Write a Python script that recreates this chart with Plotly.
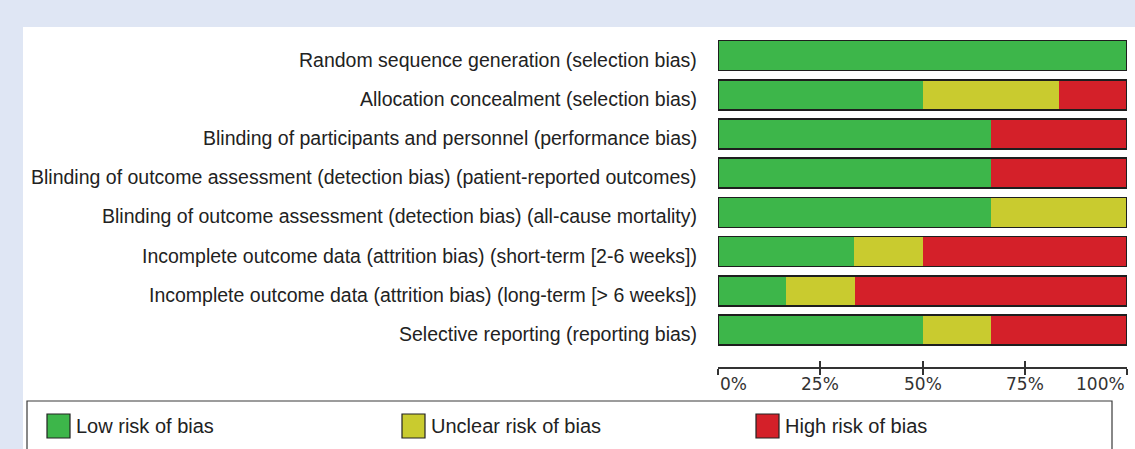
import plotly.graph_objects as go

# Risk-of-bias domains (top to bottom)
domains = [
    "Random sequence generation (selection bias)",
    "Allocation concealment (selection bias)",
    "Blinding of participants and personnel (performance bias)",
    "Blinding of outcome assessment (detection bias) (patient-reported outcomes)",
    "Blinding of outcome assessment (detection bias) (all-cause mortality)",
    "Incomplete outcome data (attrition bias) (short-term [2-6 weeks])",
    "Incomplete outcome data (attrition bias) (long-term [> 6 weeks])",
    "Selective reporting (reporting bias)",
]

# Percentage of studies per judgement
low_risk = [100, 50, 66.7, 66.7, 66.7, 33.3, 16.7, 50]
unclear_risk = [0, 33.3, 0, 0, 33.3, 16.7, 16.7, 16.7]
high_risk = [0, 16.7, 33.3, 33.3, 0, 50, 66.6, 33.3]

series_names = ["Low risk of bias", "Unclear risk of bias", "High risk of bias"]
series_colors = ["#3db64a", "#c9cb2f", "#d42029"]

tick_values = [0, 25, 50, 75, 100]
tick_labels = ["0%", "25%", "50%", "75%", "100%"]

W, H = 1135, 449
L, R, T, B = 718, 8, 36, 82
PW, PH = W - L - R, H - T - B


def px(x):
    return (x - L) / PW


def py(y):
    return (H - B - y) / PH


fig = go.Figure()
for name, vals, col in zip(series_names, [low_risk, unclear_risk, high_risk], series_colors):
    fig.add_trace(go.Bar(
        x=vals, y=domains, orientation="h", name=name,
        marker=dict(color=col, line=dict(width=0)),
        width=0.765, showlegend=False, xaxis="x", yaxis="y",
    ))

# Outline around each full bar, drawn on overlaid axes
totals = [a + b + c for a, b, c in zip(low_risk, unclear_risk, high_risk)]
fig.add_trace(go.Bar(
    x=totals, y=domains, orientation="h",
    marker=dict(color="rgba(0,0,0,0)", line=dict(color="#1e1e1e", width=1.6)),
    width=0.765, showlegend=False, xaxis="x2", yaxis="y2", hoverinfo="skip",
))

yrange = [len(domains) - 1 + 0.944, -0.5]

annotations = []

# Domain labels, right-aligned against the bars
for d in domains:
    annotations.append(dict(
        x=px(699), xref="paper", y=d, yref="y", yshift=-4, text=d, showarrow=False,
        xanchor="right", yanchor="middle",
        font=dict(family="Liberation Sans", size=19.5, color="#222222"),
    ))

# Tick labels: first left-aligned, last right-aligned
for i, (v, t) in enumerate(zip(tick_values, tick_labels)):
    anchor = "left" if i == 0 else ("right" if i == len(tick_values) - 1 else "center")
    annotations.append(dict(
        x=v, xref="x", y=py(384), yref="paper", text=t, showarrow=False,
        xanchor=anchor, yanchor="middle",
        font=dict(family="DejaVu Sans", size=17, color="#333333"),
    ))

# Legend box contents
legend_x = [47, 402, 756]
shapes = [
    dict(type="rect", xref="paper", yref="paper", x0=px(23), x1=px(1135), y0=py(449), y1=py(27),
         fillcolor="white", line=dict(width=0), layer="below"),
    dict(type="rect", xref="paper", yref="paper", x0=px(27), x1=px(1112), y0=py(460), y1=py(401),
         fillcolor="rgba(0,0,0,0)", line=dict(color="#3a3a3a", width=1.2), layer="above"),
]
for lx, name, col in zip(legend_x, series_names, series_colors):
    shapes.append(dict(type="rect", xref="paper", yref="paper", x0=px(lx), x1=px(lx + 23),
                       y0=py(438), y1=py(414), fillcolor=col,
                       line=dict(color="#222222", width=1.2)))
    annotations.append(dict(x=px(lx + 27), xref="paper", y=py(426), yref="paper", text=name,
                            showarrow=False, xanchor="left", yanchor="middle",
                            font=dict(family="Liberation Sans", size=20, color="#222222")))

fig.update_layout(
    width=W, height=H,
    margin=dict(l=L, r=R, t=T, b=B, autoexpand=False),
    paper_bgcolor="#dfe6f4",
    plot_bgcolor="rgba(0,0,0,0)",
    barmode="stack",
    bargap=0.235,
    showlegend=False,
    shapes=shapes,
    annotations=annotations,
    xaxis=dict(range=[0, 100], showgrid=False, zeroline=False, showline=True,
               linecolor="#333333", linewidth=1.5, ticks="outside", ticklen=6,
               tickwidth=1.5, tickcolor="#333333", tickvals=tick_values,
               showticklabels=False, fixedrange=True),
    xaxis2=dict(range=[0, 100], overlaying="x", showgrid=False, zeroline=False,
                showline=False, ticks="inside", ticklen=6, tickwidth=1.5,
                tickcolor="#333333", tickvals=tick_values, showticklabels=False,
                side="bottom", anchor="y2"),
    yaxis=dict(type="category", categoryorder="array", categoryarray=domains,
               range=yrange, showgrid=False, zeroline=False, showline=False,
               ticks="", showticklabels=False, automargin=False),
    yaxis2=dict(type="category", categoryorder="array", categoryarray=domains,
                range=yrange, overlaying="y", showgrid=False, zeroline=False,
                showline=False, showticklabels=False, anchor="x2"),
)

fig.write_html("out.html")
